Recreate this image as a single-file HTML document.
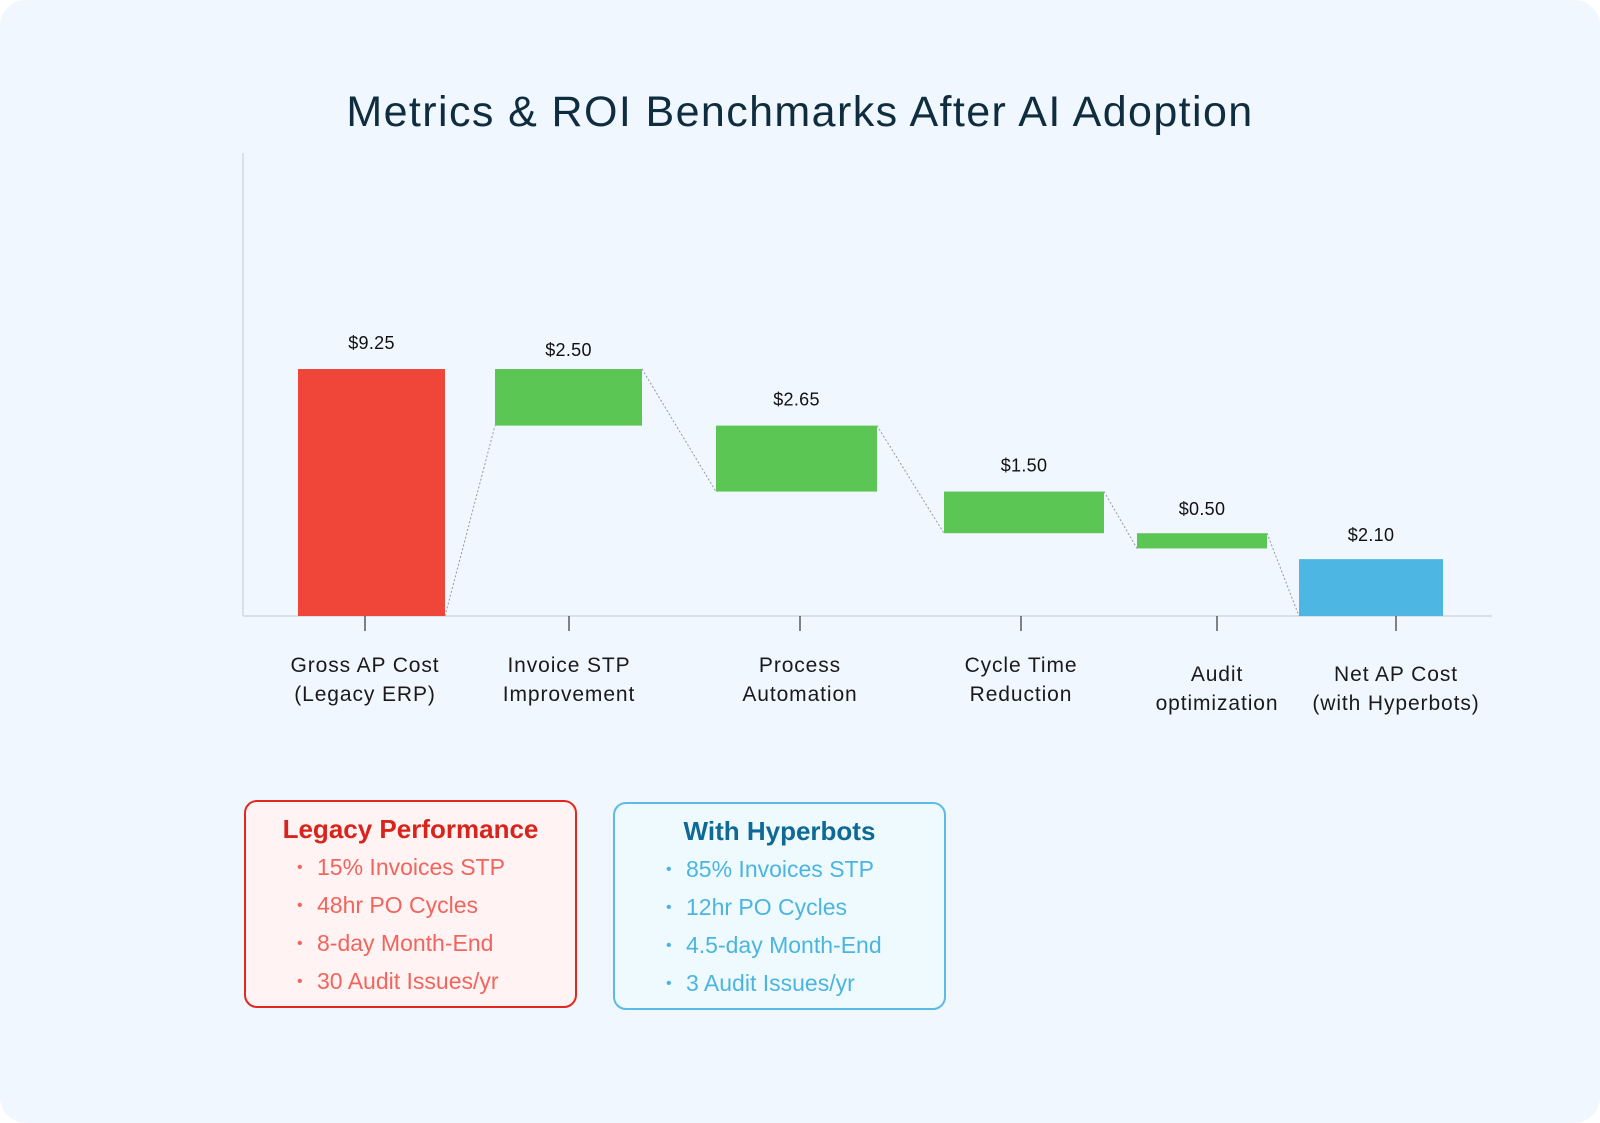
<!DOCTYPE html>
<html><head><meta charset="utf-8"><style>
html,body{margin:0;padding:0;background:#fff;}
#card{position:absolute;left:0;top:0;width:1600px;height:1123px;background:#f0f7fe;border-radius:26px;overflow:hidden;font-family:"Liberation Sans",sans-serif;}
#title{position:absolute;left:0;width:1600px;top:88px;text-align:center;font-size:43px;color:#0f2d3f;letter-spacing:1.4px;}
.box{position:absolute;box-sizing:border-box;border-radius:13px;border:2.5px solid;}
.box h3{margin:0;text-align:center;font-size:26px;font-weight:bold;position:absolute;left:0;right:0;}
.item{position:absolute;font-size:23px;white-space:nowrap;}
.item span{position:absolute;left:-20px;font-size:16px;top:5px;}
</style></head><body>
<div id="card">
<div id="title">Metrics &amp; ROI Benchmarks After AI Adoption</div>
<svg id="chart" width="1600" height="760" style="position:absolute;left:0;top:0"></svg>

<div class="box" style="left:244px;top:800px;width:333px;height:208px;border-color:#e2281e;background:#fff3f3">
<h3 style="top:12px;color:#d9241c">Legacy Performance</h3>
<div class="item" style="left:71px;top:52px;color:#f2645c"><span>•</span>15% Invoices STP</div>
<div class="item" style="left:71px;top:90px;color:#f2645c"><span>•</span>48hr PO Cycles</div>
<div class="item" style="left:71px;top:128px;color:#f2645c"><span>•</span>8-day Month-End</div>
<div class="item" style="left:71px;top:166px;color:#f2645c"><span>•</span>30 Audit Issues/yr</div>
</div>

<div class="box" style="left:613px;top:802px;width:333px;height:208px;border-color:#5bbbe6;background:#effafe">
<h3 style="top:12px;color:#0e6a95">With Hyperbots</h3>
<div class="item" style="left:71px;top:52px;color:#4bb5e0"><span>•</span>85% Invoices STP</div>
<div class="item" style="left:71px;top:90px;color:#4bb5e0"><span>•</span>12hr PO Cycles</div>
<div class="item" style="left:71px;top:128px;color:#4bb5e0"><span>•</span>4.5-day Month-End</div>
<div class="item" style="left:71px;top:166px;color:#4bb5e0"><span>•</span>3 Audit Issues/yr</div>
</div>
</div>
<script>
const categories = [["Gross AP Cost","(Legacy ERP)"],["Invoice STP","Improvement"],["Process","Automation"],["Cycle Time","Reduction"],["Audit","optimization"],["Net AP Cost","(with Hyperbots)"]];
const valueLabels = ["$9.25","$2.50","$2.65","$1.50","$0.50","$2.10"];
const barStarts = [0, 9.25, 7.13, 4.66, 3.10, 0];
const barEnds = [9.25, 7.13, 4.66, 3.10, 2.53, 2.13];
const barKinds = ["total","decrease","decrease","decrease","decrease","net"];

const svg = document.getElementById('chart');
const NS = 'http://www.w3.org/2000/svg';
const baseY = 616, pxPerUnit = 26.7;
function y(v){ return baseY - v*pxPerUnit; }
// layout (pixel geometry, not data)
const barLeft = [298,495,716,944,1137,1299];
const barRight = [445,642,877,1104,1267,1443];
const tickX = [365,569,800,1021,1217,1396];
const labelTop = [665,665,665,665,674,674];
const labelGap = [20,13,20,20,18,18];
const colors = {total:"#f04539",decrease:"#5cc655",net:"#4db6e2"};
function mk(tag, attrs){ const e=document.createElementNS(NS,tag); for(const k in attrs) e.setAttribute(k,attrs[k]); svg.appendChild(e); return e; }

let a = mk('line',{x1:243,y1:153,x2:243,y2:baseY,stroke:'#d3d9df','stroke-width':1.5});


a = mk('line',{x1:243,y1:baseY,x2:1492,y2:baseY,stroke:'#d3d9df','stroke-width':1.5});



for(let i=0;i<categories.length;i++){
  const lo=Math.min(barStarts[i],barEnds[i]), hi=Math.max(barStarts[i],barEnds[i]);
  const r = mk('rect',{x:barLeft[i],y:y(hi),width:barRight[i]-barLeft[i],height:y(lo)-y(hi),fill:colors[barKinds[i]]});
  
  
  const t = mk('text',{x:(barLeft[i]+barRight[i])/2,y:y(hi)-labelGap[i],'text-anchor':'middle','font-size':18,fill:'#111','font-family':'Liberation Sans, sans-serif','letter-spacing':0.3});
  t.textContent = valueLabels[i];
  
  
  const tk = mk('line',{x1:tickX[i],y1:baseY,x2:tickX[i],y2:baseY+15,stroke:'#333','stroke-width':1.2});
  
  
  categories[i].forEach((ln,j)=>{
    const c = mk('text',{x:tickX[i],y:labelTop[i]+j*29+7,'text-anchor':'middle','font-size':21,fill:'#1a1a1a','font-family':'Liberation Sans, sans-serif','letter-spacing':0.9});
    c.textContent = ln;
    
    
  });
  if(i<categories.length-1){
    const nlo=Math.min(barStarts[i+1],barEnds[i+1]);
    const cn = mk('line',{x1:barRight[i],y1:y(barStarts[i]),x2:barLeft[i+1],y2:y(nlo),stroke:'#999','stroke-width':1,'stroke-dasharray':'2,2'});
    
    
  }
}
</script>
</body></html>
